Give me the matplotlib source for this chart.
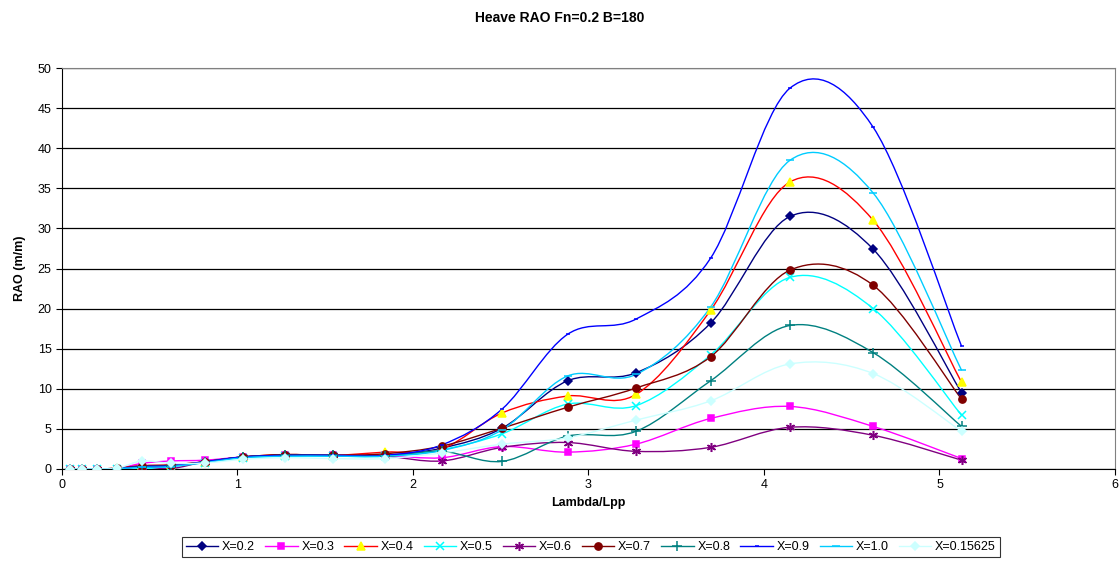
import matplotlib.pyplot as plt
from matplotlib.path import Path
from matplotlib.patches import PathPatch
from matplotlib.lines import Line2D

plt.rcParams['font.family'] = ['Liberation Sans', 'DejaVu Sans']

lam = [0.046, 0.112, 0.197, 0.315, 0.457, 0.621, 0.815, 1.033, 1.27, 1.545,
       1.84, 2.164, 2.509, 2.881, 3.271, 3.696, 4.148, 4.623, 5.126]

x02 = [0, 0, 0, 0.05, 0.3, 0.4, 0.9, 1.5, 1.7, 1.7, 1.7, 2.6, 5.1, 11.0, 12.0, 18.2, 31.5, 27.4, 9.5]
x03 = [0, 0, 0, 0.05, 0.7, 1.0, 1.1, 1.5, 1.7, 1.7, 1.7, 1.4, 2.8, 2.1, 3.1, 6.3, 7.8, 5.3, 1.3]
x04 = [0, 0, 0, 0.1, 0.4, 0.5, 0.9, 1.5, 1.8, 1.7, 2.1, 2.5, 7.0, 9.1, 9.3, 19.8, 35.8, 31.0, 10.8]
x05 = [0, 0, 0, 0, 0, 0.3, 0.8, 1.4, 1.6, 1.6, 1.6, 2.4, 4.4, 8.1, 7.9, 14.2, 23.9, 20.0, 6.7]
x06 = [0, 0, 0, 0.05, 0.3, 0.05, 0.9, 1.5, 1.7, 1.7, 1.6, 1.0, 2.7, 3.3, 2.2, 2.7, 5.2, 4.2, 1.1]
x07 = [0, 0, 0, 0.1, 0.4, 0.5, 0.9, 1.5, 1.8, 1.7, 1.9, 2.85, 5.1, 7.7, 10.1, 14.0, 24.8, 22.9, 8.7]
x08 = [0, 0, 0, 0.05, 0.3, 0.4, 0.9, 1.5, 1.7, 1.7, 1.6, 2.2, 0.95, 4.1, 4.7, 11.0, 17.9, 14.5, 5.3]
x09 = [0, 0, 0, 0.05, 0.3, 0.4, 0.9, 1.5, 1.7, 1.7, 1.7, 3.0, 7.5, 16.8, 18.7, 26.3, 47.5, 42.6, 15.3]
x10 = [0, 0, 0, 0.05, 0.2, 0.3, 0.8, 1.4, 1.6, 1.6, 1.6, 2.3, 4.9, 11.6, 11.8, 20.2, 38.5, 34.4, 12.3]
x015625 = [0, 0, 0, 0.1, 1.0, 0.7, 0.75, 1.2, 1.4, 1.3, 1.3, 2.0, 3.1, 3.9, 6.1, 8.5, 13.1, 11.9, 4.7]

series = [
    ('X=0.2', x02, '#000080', '#000080', 'D', 4.2),
    ('X=0.3', x03, '#FF00FF', '#FF00FF', 's', 4.5),
    ('X=0.4', x04, '#FF0000', '#FFFF00', '^', 5.5),
    ('X=0.5', x05, '#00FFFF', '#00FFFF', 'x', 5.5),
    ('X=0.6', x06, '#800080', '#800080', (6, 2, 0), 6.5),
    ('X=0.7', x07, '#800000', '#800000', 'o', 5.2),
    ('X=0.8', x08, '#008080', '#008080', '+', 6.5),
    ('X=0.9', x09, '#0000FF', '#0000FF', '_', 3.5),
    ('X=1.0', x10, '#00CCFF', '#00CCFF', '_', 6),
    ('X=0.15625', x015625, '#CCFFFF', '#CCFFFF', 'D', 4.2),
]


def smooth_path(xs, ys):
    # Excel-like smoothed line: cubic Bezier through the points
    n = len(xs)
    verts = [(xs[0], ys[0])]
    codes = [Path.MOVETO]
    for i in range(n - 1):
        a = max(i - 1, 0)
        b = min(i + 2, n - 1)
        c1 = (xs[i] + (xs[i + 1] - xs[a]) / 6, ys[i] + (ys[i + 1] - ys[a]) / 6)
        c2 = (xs[i + 1] - (xs[b] - xs[i]) / 6, ys[i + 1] - (ys[b] - ys[i]) / 6)
        verts += [c1, c2, (xs[i + 1], ys[i + 1])]
        codes += [Path.CURVE4] * 3
    return Path(verts, codes)


fig = plt.figure(figsize=(11.19, 5.63), dpi=100)
ax = fig.add_axes([0.0554, 0.167, 0.941, 0.712])

handles = []
for name, vals, col, mcol, mk, ms in series:
    ax.add_patch(PathPatch(smooth_path(lam, vals), fill=False, edgecolor=col, lw=1.0, zorder=3))
    ax.plot(lam, vals, linestyle='none', marker=mk, color=mcol, markersize=ms,
            markeredgewidth=1.1, zorder=4)
    handles.append(Line2D([], [], color=col, lw=1.0, marker=mk, markerfacecolor=mcol,
                          markeredgecolor=mcol, markersize=ms, markeredgewidth=1.1))

ax.set_xlim(0, 6)
ax.set_ylim(0, 50)
ax.set_xticks(range(0, 7))
ax.set_yticks(range(0, 51, 5))
ax.tick_params(labelsize=9, direction='out', length=4, width=0.8)
ax.grid(axis='y', color='black', lw=0.9)
ax.set_axisbelow(True)
for s in ['top', 'right']:
    ax.spines[s].set_color('#808080')
ax.spines['left'].set_color('black')
ax.spines['bottom'].set_color('black')

ax.set_xlabel('Lambda/Lpp', fontsize=9, fontweight='bold', labelpad=4)
ax.set_ylabel('RAO (m/m)', fontsize=9, fontweight='bold', labelpad=8)
fig.suptitle('Heave RAO Fn=0.2 B=180', fontsize=10, fontweight='bold', y=0.98)

leg = fig.legend(handles, [s[0] for s in series], loc='lower center', ncol=10,
                 bbox_to_anchor=(0.528, 0.0), fontsize=9, frameon=True, fancybox=False,
                 handlelength=2.6, handletextpad=0.3, columnspacing=0.8,
                 borderpad=0.3, edgecolor='black')
leg.get_frame().set_linewidth(0.8)

fig.savefig('out.png', dpi=100)
